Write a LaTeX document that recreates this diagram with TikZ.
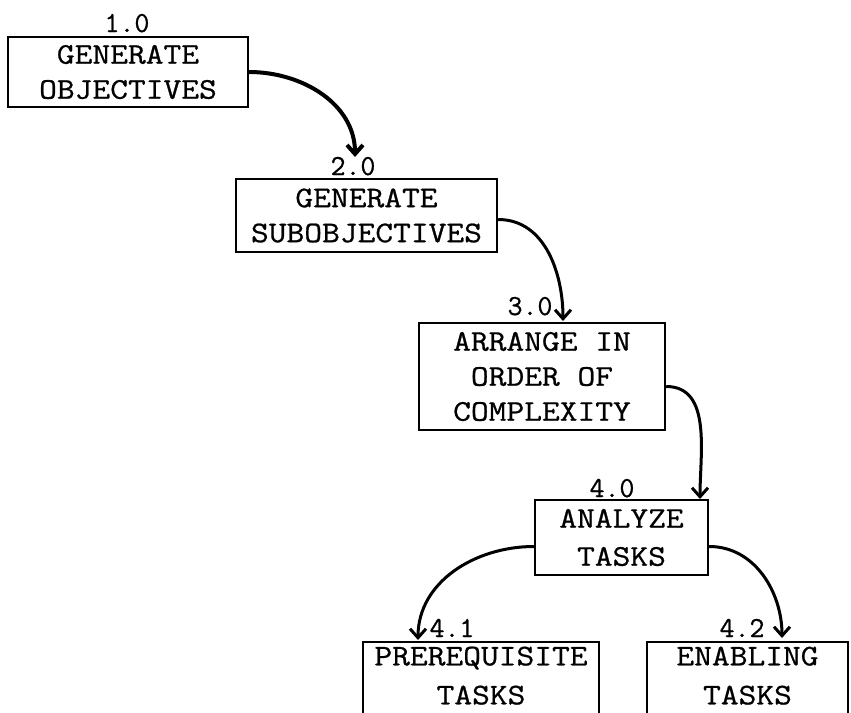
\documentclass[tikz,border=0pt]{standalone}
\usepackage{fontspec}
\setmainfont{Latin Modern Mono}
\newfontfamily\typew{Latin Modern Mono}[FakeStretch=1.15, FakeBold=0.8]
\newfontfamily\typenum{Latin Modern Mono}[FakeBold=0.8]
\usetikzlibrary{arrows.meta}
\tikzset{
  procbox/.style={draw=black, line width=2.4pt, inner sep=0pt, align=center,
    font=\fontsize{30}{35}\selectfont\typew},
  numlabel/.style={anchor=base, inner sep=0pt, font=\fontsize{29}{30}\selectfont\typenum},
  flow/.style={line width=3pt, -{Straight Barb[length=9pt,width=16pt]}}
}
\begin{document}
\begin{tikzpicture}[x=1pt,y=-1pt]
\useasboundingbox[fill=white] (0,0) rectangle (851,712);
\clip (0,0) rectangle (851,712);
% boxes
\node[procbox, minimum width=240pt, minimum height=70pt] (b1) at (128,72) {GENERATE\\OBJECTIVES};
\node[procbox, minimum width=261pt, minimum height=73pt] (b2) at (366.5,215.5) {GENERATE\\SUBOBJECTIVES};
\node[procbox, minimum width=246pt, minimum height=107pt] (b3) at (542,376.5) {ARRANGE IN\\ORDER OF\\COMPLEXITY};
\node[procbox, minimum width=173pt, minimum height=75pt, font=\fontsize{30}{38}\selectfont\typew] (b4) at (621.5,537.5) {ANALYZE\\TASKS};
\node[procbox, minimum width=236pt, minimum height=74pt, font=\fontsize{30}{39}\selectfont\typew] (b41) at (481,679) {PREREQUISITE\\TASKS\rule[-7pt]{0pt}{0pt}};
\node[procbox, minimum width=201pt, minimum height=74pt, font=\fontsize{30}{39}\selectfont\typew] (b42) at (747.5,679) {ENABLING\\TASKS\rule[-7pt]{0pt}{0pt}};
% number labels
\node[numlabel] (n1) at (127,32) {1.0};
\node[numlabel] (n2) at (353,175) {2.0};
\node[numlabel] (n3) at (530,315) {3.0};
\node[numlabel] (n4) at (612,497) {4.0};
\node[numlabel] (n41) at (452,637) {4.1};
\node[numlabel] (n42) at (742,637) {4.2};
% arrow ends
\coordinate (e12) at (355,157);
\coordinate (e23) at (563,321);
\coordinate (e34) at (700,499);
\coordinate (e41) at (418,640);
\coordinate (e42) at (782,638);
% connectors
\draw[flow, line width=4pt] (b1.east) to[out=0,in=90] (e12);
\draw[flow] ([yshift=-4pt]b2.east) to[out=0,in=90] (e23);
\draw[flow] ([yshift=-10pt]b3.east) to[out=0,in=90] (e34);
\draw[flow] ([yshift=-9pt]b4.west) to[out=180,in=90] (e41);
\draw[flow] ([yshift=-9pt]b4.east) to[out=0,in=90] (e42);
\end{tikzpicture}
\end{document}
